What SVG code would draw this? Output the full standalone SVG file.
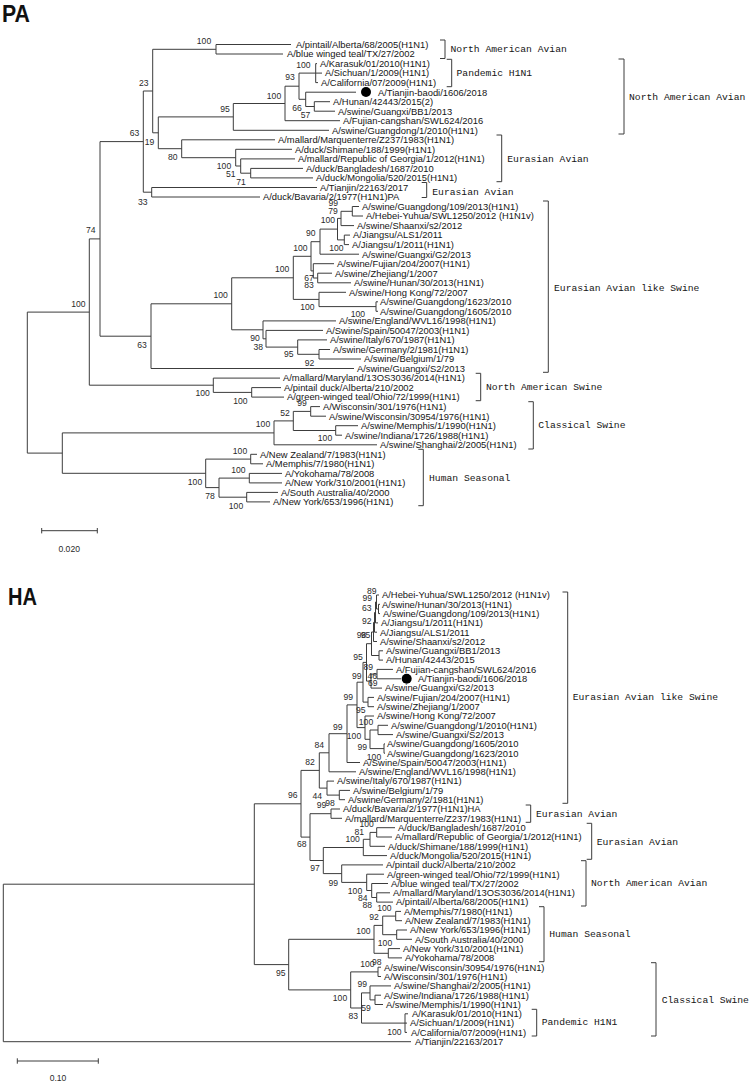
<svg xmlns="http://www.w3.org/2000/svg" width="750" height="1085" viewBox="0 0 750 1085">
<style>
.e{fill:none;stroke:#3c3c3c;stroke-width:1}
.k{fill:none;stroke:#3c3c3c;stroke-width:1}
.t{font-family:"Liberation Sans",Arial,sans-serif;font-size:9.4px;fill:#151515}
.b{font-family:"Liberation Sans",Arial,sans-serif;font-size:8.6px;fill:#2a2a2a;text-anchor:middle}
.c{font-family:"Liberation Mono","Courier New",monospace;font-size:9.7px;fill:#151515}
.h{font-family:"Liberation Sans",Arial,sans-serif;font-weight:bold;font-size:24px;fill:#111}
.d{fill:#000}
</style>
<rect width="750" height="1085" fill="#fff"/>
<text class="h" x="2" y="22" textLength="28" lengthAdjust="spacingAndGlyphs">PA</text>
<text class="h" x="8" y="605" textLength="29" lengthAdjust="spacingAndGlyphs">HA</text>

<g id="connectors">
<path class="e" d="M216 44.5V54M216 44.5H291M216 54H283"/>
<path class="e" d="M315.7 63.6V82.6M315.7 63.6H317M315.7 73.1H322M315.7 82.6H318"/>
<path class="e" d="M314.3 101.7V111.2M314.3 101.7H330M314.3 111.2H335"/>
<path class="e" d="M305.7 92.2V106.5M305.7 92.2H356M305.7 106.5H314.3"/>
<path class="e" d="M299 73.1V99.3M299 73.1H315.7M299 99.3H305.7"/>
<path class="e" d="M285 86.2V120.7M285 86.2H299M285 120.7H340"/>
<path class="e" d="M233.3 103.5V130.3M233.3 103.5H285M233.3 130.3H329"/>
<path class="e" d="M250.7 168.4V177.9M250.7 168.4H303M250.7 177.9H313"/>
<path class="e" d="M240.7 158.9V173.2M240.7 158.9H295M240.7 173.2H250.7"/>
<path class="e" d="M235.7 149.3V166M235.7 149.3H292M235.7 166H240.7"/>
<path class="e" d="M181.7 139.8V157.7M181.7 139.8H275M181.7 157.7H235.7"/>
<path class="e" d="M158.3 116.9V148.7M158.3 116.9H233.3M158.3 148.7H181.7"/>
<path class="e" d="M152.7 49.3V132.8M152.7 49.3H216M152.7 132.8H158.3"/>
<path class="e" d="M151.7 187.5V197M151.7 187.5H317M151.7 197H260"/>
<path class="e" d="M143.3 91V192.2M143.3 91H152.7M143.3 192.2H151.7"/>
<path class="e" d="M352.3 206.5V216M352.3 206.5H359M352.3 216H363"/>
<path class="e" d="M341 211.3V225.6M341 211.3H352.3M341 225.6H354"/>
<path class="e" d="M344.3 235.1V244.6M344.3 235.1H350M344.3 244.6H349"/>
<path class="e" d="M337.5 218.4V239.9M337.5 218.4H341M337.5 239.9H344.3"/>
<path class="e" d="M320 229.1V254.2M320 229.1H337.5M320 254.2H359"/>
<path class="e" d="M317.7 273.2V282.8M317.7 273.2H332M317.7 282.8H351"/>
<path class="e" d="M313.3 263.7V278M313.3 263.7H334M313.3 278H317.7"/>
<path class="e" d="M311 241.7V270.9M311 241.7H320M311 270.9H313.3"/>
<path class="e" d="M376 301.8V311.3M376 301.8H378M376 311.3H378"/>
<path class="e" d="M319 292.3V306.6M319 292.3H346M319 306.6H376"/>
<path class="e" d="M293.3 256.3V299.4M293.3 256.3H311M293.3 299.4H319"/>
<path class="e" d="M319 349.5V359M319 349.5H330M319 359H361"/>
<path class="e" d="M297.7 339.9V354.3M297.7 339.9H327M297.7 354.3H319"/>
<path class="e" d="M266 330.4V347.1M266 330.4H323M266 347.1H297.7"/>
<path class="e" d="M263 320.9V338.8M263 320.9H336M263 338.8H266"/>
<path class="e" d="M231.7 277.8V329.8M231.7 277.8H293.3M231.7 329.8H263"/>
<path class="e" d="M151 303.8V368.5M151 303.8H231.7M151 368.5H354"/>
<path class="e" d="M100 141.6V336.2M100 141.6H143.3M100 336.2H151"/>
<path class="e" d="M251.7 387.6V397.1M251.7 387.6H281M251.7 397.1H284"/>
<path class="e" d="M213.3 378.1V392.4M213.3 378.1H280M213.3 392.4H251.7"/>
<path class="e" d="M89.3 238.9V385.2M89.3 238.9H100M89.3 385.2H213.3"/>
<path class="e" d="M310.7 406.6V416.2M310.7 406.6H320M310.7 416.2H326"/>
<path class="e" d="M335.7 425.7V435.2M335.7 425.7H358M335.7 435.2H342"/>
<path class="e" d="M293.3 411.4V430.5M293.3 411.4H310.7M293.3 430.5H335.7"/>
<path class="e" d="M274 420.9V444.8M274 420.9H293.3M274 444.8H377"/>
<path class="e" d="M250.7 454.3V463.8M250.7 454.3H257M250.7 463.8H263"/>
<path class="e" d="M249.3 473.4V482.9M249.3 473.4H282M249.3 482.9H282"/>
<path class="e" d="M246.7 492.4V501.9M246.7 492.4H278M246.7 501.9H270"/>
<path class="e" d="M219 478.1V497.2M219 478.1H249.3M219 497.2H246.7"/>
<path class="e" d="M205.7 459.1V487.6M205.7 459.1H250.7M205.7 487.6H219"/>
<path class="e" d="M62.3 432.9V473.3M62.3 432.9H274M62.3 473.3H205.7"/>
<path class="e" d="M27.3 312.1V453.1M27.3 312.1H89.3M27.3 453.1H62.3"/>
<path class="e" d="M41.7 530.7H97.3M41.7 528V533.4M97.3 528V533.4"/>

<path class="e" d="M378.5 604.3V613.6M378.5 604.3H380M378.5 613.6H380"/>
<path class="e" d="M376.5 595V609M376.5 595H379M376.5 609H378.5"/>
<path class="e" d="M375.5 602V622.9M375.5 602H376.5M375.5 622.9H378"/>
<path class="e" d="M374.5 612.5V632.2M374.5 612.5H375.5M374.5 632.2H377"/>
<path class="e" d="M373.5 622.4V641.5M373.5 622.4H374.5M373.5 641.5H377"/>
<path class="e" d="M379 650.8V660.1M379 650.8H383M379 660.1H383"/>
<path class="e" d="M371.5 632V655.5M371.5 632H373.5M371.5 655.5H379"/>
<path class="e" d="M377 669.4V678.8M377 669.4H393M377 678.8H401"/>
<path class="e" d="M371 674.1V688.1M371 674.1H377M371 688.1H382"/>
<path class="e" d="M366.5 643.7V681.1M366.5 643.7H371.5M366.5 681.1H371"/>
<path class="e" d="M368 697.4V706.7M368 697.4H374M368 706.7H374"/>
<path class="e" d="M363 662.4V702.1M363 662.4H366.5M363 702.1H368"/>
<path class="e" d="M378 725.3V734.6M378 725.3H388M378 734.6H393"/>
<path class="e" d="M384 743.9V753.2M384 743.9H385M384 753.2H385"/>
<path class="e" d="M370 730V748.6M370 730H378M370 748.6H384"/>
<path class="e" d="M365 716V739.3M365 716H374M365 739.3H370"/>
<path class="e" d="M357 682.2V727.6M357 682.2H363M357 727.6H365"/>
<path class="e" d="M347 704.9V762.5M347 704.9H357M347 762.5H360"/>
<path class="e" d="M329 733.7V771.8M329 733.7H347M329 771.8H356"/>
<path class="e" d="M339.3 790.4V799.7M339.3 790.4H350M339.3 799.7H345"/>
<path class="e" d="M327 781.1V795.1M327 781.1H334M327 795.1H339.3"/>
<path class="e" d="M319.3 752.8V788.1M319.3 752.8H329M319.3 788.1H327"/>
<path class="e" d="M331 809V818.3M331 809H340M331 818.3H342"/>
<path class="e" d="M376.7 827.7V837M376.7 827.7H395M376.7 837H392"/>
<path class="e" d="M370 832.4V846.3M370 832.4H376.7M370 846.3H385"/>
<path class="e" d="M363.3 839.3V855.6M363.3 839.3H370M363.3 855.6H387"/>
<path class="e" d="M376.7 892.8V902.1M376.7 892.8H390M376.7 902.1H393"/>
<path class="e" d="M371.7 883.5V897.5M371.7 883.5H388M371.7 897.5H376.7"/>
<path class="e" d="M366.7 874.2V890.5M366.7 874.2H384M366.7 890.5H371.7"/>
<path class="e" d="M341.7 864.9V882.4M341.7 864.9H383M341.7 882.4H366.7"/>
<path class="e" d="M323.3 847.5V873.6M323.3 847.5H363.3M323.3 873.6H341.7"/>
<path class="e" d="M310 813.7V860.5M310 813.7H331M310 860.5H323.3"/>
<path class="e" d="M301 770.4V837.1M301 770.4H319.3M301 837.1H310"/>
<path class="e" d="M395.7 911.4V920.7M395.7 911.4H401M395.7 920.7H402"/>
<path class="e" d="M396.7 930V939.3M396.7 930H407M396.7 939.3H412"/>
<path class="e" d="M382.7 916.1V934.7M382.7 916.1H395.7M382.7 934.7H396.7"/>
<path class="e" d="M388.3 948.6V957.9M388.3 948.6H400M388.3 957.9H402"/>
<path class="e" d="M374 925.4V953.3M374 925.4H382.7M374 953.3H388.3"/>
<path class="e" d="M378 967.2V976.5M378 967.2H381M378 976.5H381"/>
<path class="e" d="M375 995.2V1004.5M375 995.2H381M375 1004.5H383"/>
<path class="e" d="M370 985.9V999.9M370 985.9H391M370 999.9H375"/>
<path class="e" d="M405 1013.8V1032.4M405 1013.8H408M405 1023.1H407M405 1032.4H407"/>
<path class="e" d="M361.5 992.9V1023.1M361.5 992.9H370M361.5 1023.1H405"/>
<path class="e" d="M350.7 971.9V1008M350.7 971.9H378M350.7 1008H361.5"/>
<path class="e" d="M288.7 939.3V989.9M288.7 939.3H374M288.7 989.9H350.7"/>
<path class="e" d="M254.3 803.8V964.6M254.3 803.8H301M254.3 964.6H288.7"/>
<path class="e" d="M3.3 884.2V1041.7M3.3 884.2H254.3M3.3 1041.7H411"/>
<path class="e" d="M17.3 1061H98.3M17.3 1058.3V1063.7M98.3 1058.3V1063.7"/>
</g>

<g id="pa-dot"><circle class="d" cx="366" cy="92" r="5"/></g>
<g id="ha-dot"><circle class="d" cx="406.7" cy="678.8" r="5"/></g>

<g id="pa-leaves">
<g id="pa-l0"><text class="t" x="296" y="47.8">A/pintail/Alberta/68/2005(H1N1)</text></g>
<g id="pa-l1"><text class="t" x="287" y="57.3">A/blue winged teal/TX/27/2002</text></g>
<g id="pa-l2"><text class="t" x="320" y="66.9">A/Karasuk/01/2010(H1N1)</text></g>
<g id="pa-l3"><text class="t" x="325" y="76.4">A/Sichuan/1/2009(H1N1)</text></g>
<g id="pa-l4"><text class="t" x="321" y="85.9">A/California/07/2009(H1N1)</text></g>
<g id="pa-l5"><text class="t" x="378" y="95.5">A/Tianjin-baodi/1606/2018</text></g>
<g id="pa-l6"><text class="t" x="333" y="105">A/Hunan/42443/2015(2)</text></g>
<g id="pa-l7"><text class="t" x="338" y="114.5">A/swine/Guangxi/BB1/2013</text></g>
<g id="pa-l8"><text class="t" x="343" y="124">A/Fujian-cangshan/SWL624/2016</text></g>
<g id="pa-l9"><text class="t" x="332" y="133.6">A/swine/Guangdong/1/2010(H1N1)</text></g>
<g id="pa-l10"><text class="t" x="278" y="143.1">A/mallard/Marquenterre/Z237/1983(H1N1)</text></g>
<g id="pa-l11"><text class="t" x="295" y="152.6">A/duck/Shimane/188/1999(H1N1)</text></g>
<g id="pa-l12"><text class="t" x="298" y="162.2">A/mallard/Republic of Georgia/1/2012(H1N1)</text></g>
<g id="pa-l13"><text class="t" x="306" y="171.7">A/duck/Bangladesh/1687/2010</text></g>
<g id="pa-l14"><text class="t" x="316" y="181.2">A/duck/Mongolia/520/2015(H1N1)</text></g>
<g id="pa-l15"><text class="t" x="320" y="190.8">A/Tianjin/22163/2017</text></g>
<g id="pa-l16"><text class="t" x="263" y="200.3">A/duck/Bavaria/2/1977(H1N1)PA</text></g>
<g id="pa-l17"><text class="t" x="362" y="209.8">A/swine/Guangdong/109/2013(H1N1)</text></g>
<g id="pa-l18"><text class="t" x="366" y="219.3">A/Hebei-Yuhua/SWL1250/2012 (H1N1v)</text></g>
<g id="pa-l19"><text class="t" x="357" y="228.9">A/swine/Shaanxi/s2/2012</text></g>
<g id="pa-l20"><text class="t" x="353" y="238.4">A/Jiangsu/ALS1/2011</text></g>
<g id="pa-l21"><text class="t" x="352" y="247.9">A/Jiangsu/1/2011(H1N1)</text></g>
<g id="pa-l22"><text class="t" x="362" y="257.5">A/swine/Guangxi/G2/2013</text></g>
<g id="pa-l23"><text class="t" x="337" y="267">A/swine/Fujian/204/2007(H1N1)</text></g>
<g id="pa-l24"><text class="t" x="335" y="276.5">A/swine/Zhejiang/1/2007</text></g>
<g id="pa-l25"><text class="t" x="354" y="286.1">A/swine/Hunan/30/2013(H1N1)</text></g>
<g id="pa-l26"><text class="t" x="349" y="295.6">A/swine/Hong Kong/72/2007</text></g>
<g id="pa-l27"><text class="t" x="380" y="305.1">A/swine/Guangdong/1623/2010</text></g>
<g id="pa-l28"><text class="t" x="380" y="314.6">A/swine/Guangdong/1605/2010</text></g>
<g id="pa-l29"><text class="t" x="339" y="324.2">A/swine/England/WVL16/1998(H1N1)</text></g>
<g id="pa-l30"><text class="t" x="326" y="333.7">A/Swine/Spain/50047/2003(H1N1)</text></g>
<g id="pa-l31"><text class="t" x="330" y="343.2">A/swine/Italy/670/1987(H1N1)</text></g>
<g id="pa-l32"><text class="t" x="333" y="352.8">A/swine/Germany/2/1981(H1N1)</text></g>
<g id="pa-l33"><text class="t" x="364" y="362.3">A/swine/Belgium/1/79</text></g>
<g id="pa-l34"><text class="t" x="357" y="371.8">A/swine/Guangxi/S2/2013</text></g>
<g id="pa-l35"><text class="t" x="283" y="381.4">A/mallard/Maryland/13OS3036/2014(H1N1)</text></g>
<g id="pa-l36"><text class="t" x="284" y="390.9">A/pintail duck/Alberta/210/2002</text></g>
<g id="pa-l37"><text class="t" x="287" y="400.4">A/green-winged teal/Ohio/72/1999(H1N1)</text></g>
<g id="pa-l38"><text class="t" x="323" y="409.9">A/Wisconsin/301/1976(H1N1)</text></g>
<g id="pa-l39"><text class="t" x="329" y="419.5">A/swine/Wisconsin/30954/1976(H1N1)</text></g>
<g id="pa-l40"><text class="t" x="361" y="429">A/swine/Memphis/1/1990(H1N1)</text></g>
<g id="pa-l41"><text class="t" x="345" y="438.5">A/swine/Indiana/1726/1988(H1N1)</text></g>
<g id="pa-l42"><text class="t" x="380" y="448.1">A/swine/Shanghai/2/2005(H1N1)</text></g>
<g id="pa-l43"><text class="t" x="260" y="457.6">A/New Zealand/7/1983(H1N1)</text></g>
<g id="pa-l44"><text class="t" x="266" y="467.1">A/Memphis/7/1980(H1N1)</text></g>
<g id="pa-l45"><text class="t" x="285" y="476.7">A/Yokohama/78/2008</text></g>
<g id="pa-l46"><text class="t" x="285" y="486.2">A/New York/310/2001(H1N1)</text></g>
<g id="pa-l47"><text class="t" x="281" y="495.7">A/South Australia/40/2000</text></g>
<g id="pa-l48"><text class="t" x="273" y="505.2">A/New York/653/1996(H1N1)</text></g>
</g>

<g id="pa-support">
<text class="b" x="204" y="44">100</text>
<text class="b" x="303.3" y="68">100</text>
<text class="b" x="290" y="80.4">93</text>
<text class="b" x="274" y="98.9">100</text>
<text class="b" x="225" y="111.9">95</text>
<text class="b" x="297" y="111.4">66</text>
<text class="b" x="305.5" y="118.4">57</text>
<text class="b" x="143.7" y="86.4">23</text>
<text class="b" x="134.5" y="136.4">63</text>
<text class="b" x="149.5" y="144.8">19</text>
<text class="b" x="172.8" y="160.4">80</text>
<text class="b" x="224" y="168.9">100</text>
<text class="b" x="230.8" y="177.3">51</text>
<text class="b" x="241" y="185.1">71</text>
<text class="b" x="142.8" y="204.8">33</text>
<text class="b" x="333.3" y="205.6">99</text>
<text class="b" x="333" y="213.6">79</text>
<text class="b" x="327.8" y="223.4">100</text>
<text class="b" x="310.8" y="235.9">90</text>
<text class="b" x="336.3" y="250.9">100</text>
<text class="b" x="300.3" y="250.6">100</text>
<text class="b" x="282.2" y="271.9">100</text>
<text class="b" x="309" y="280.9">67</text>
<text class="b" x="309" y="288.4">83</text>
<text class="b" x="220.7" y="298.1">100</text>
<text class="b" x="307.3" y="310.4">100</text>
<text class="b" x="357.8" y="316.8">100</text>
<text class="b" x="255" y="341.1">90</text>
<text class="b" x="258.3" y="350.1">38</text>
<text class="b" x="288.7" y="357.3">95</text>
<text class="b" x="309.5" y="365.8">92</text>
<text class="b" x="142" y="347.6">63</text>
<text class="b" x="90.8" y="233.1">74</text>
<text class="b" x="78.3" y="306.8">100</text>
<text class="b" x="202.7" y="395.6">100</text>
<text class="b" x="240.3" y="403.8">100</text>
<text class="b" x="302" y="406.1">99</text>
<text class="b" x="285" y="415.8">52</text>
<text class="b" x="263" y="427.1">100</text>
<text class="b" x="325" y="441.4">100</text>
<text class="b" x="240" y="453.8">100</text>
<text class="b" x="238.3" y="473.1">100</text>
<text class="b" x="195" y="484.8">100</text>
<text class="b" x="210" y="499.4">78</text>
<text class="b" x="236" y="508.6">100</text>
<text class="b" x="69.2" y="552.4">0.020</text>
</g>

<g id="pa-clades">
<g id="pa-c1"><path class="k" d="M440 40H445V58.5H440"/><text class="c" x="450.5" y="52">North American Avian</text></g>
<g id="pa-c2"><path class="k" d="M446.7 59.3H451.7V86.7H446.7"/><text class="c" x="456.5" y="76.3">Pandemic H1N1</text></g>
<g id="pa-c3"><path class="k" d="M618.5 59H624V134H618.5"/><text class="c" x="629" y="100.3">North American Avian</text></g>
<g id="pa-c4"><path class="k" d="M496.5 135H501.7V181.7H496.5"/><text class="c" x="507.3" y="162">Eurasian Avian</text></g>
<g id="pa-c5"><path class="k" d="M421.7 182.5H426.7V197.5H421.7"/><text class="c" x="432.3" y="195.3">Eurasian Avian</text></g>
<g id="pa-c6"><path class="k" d="M543 201H548.3V372.3H543"/><text class="c" x="554" y="290.7">Eurasian Avian like Swine</text></g>
<g id="pa-c7"><path class="k" d="M475.7 373.3H480.7V400.7H475.7"/><text class="c" x="486" y="389.7">North American Swine</text></g>
<g id="pa-c8"><path class="k" d="M528.3 401.7H533.3V449H528.3"/><text class="c" x="538.3" y="428">Classical Swine</text></g>
<g id="pa-c9"><path class="k" d="M418.3 449.3H423.3V505.7H418.3"/><text class="c" x="429" y="480.7">Human Seasonal</text></g>
</g>

<g id="ha-leaves">
<g id="ha-l0"><text class="t" x="382" y="598.3">A/Hebei-Yuhua/SWL1250/2012 (H1N1v)</text></g>
<g id="ha-l1"><text class="t" x="382" y="607.6">A/swine/Hunan/30/2013(H1N1)</text></g>
<g id="ha-l2"><text class="t" x="383" y="616.9">A/swine/Guangdong/109/2013(H1N1)</text></g>
<g id="ha-l3"><text class="t" x="381" y="626.2">A/Jiangsu/1/2011(H1N1)</text></g>
<g id="ha-l4"><text class="t" x="380" y="635.5">A/Jiangsu/ALS1/2011</text></g>
<g id="ha-l5"><text class="t" x="380" y="644.8">A/swine/Shaanxi/s2/2012</text></g>
<g id="ha-l6"><text class="t" x="386" y="654.1">A/swine/Guangxi/BB1/2013</text></g>
<g id="ha-l7"><text class="t" x="386" y="663.4">A/Hunan/42443/2015</text></g>
<g id="ha-l8"><text class="t" x="396" y="672.7">A/Fujian-cangshan/SWL624/2016</text></g>
<g id="ha-l9"><text class="t" x="418" y="682.1">A/Tianjin-baodi/1606/2018</text></g>
<g id="ha-l10"><text class="t" x="385" y="691.4">A/swine/Guangxi/G2/2013</text></g>
<g id="ha-l11"><text class="t" x="377" y="700.7">A/swine/Fujian/204/2007(H1N1)</text></g>
<g id="ha-l12"><text class="t" x="377" y="710">A/swine/Zhejiang/1/2007</text></g>
<g id="ha-l13"><text class="t" x="377" y="719.3">A/swine/Hong Kong/72/2007</text></g>
<g id="ha-l14"><text class="t" x="391" y="728.6">A/swine/Guangdong/1/2010(H1N1)</text></g>
<g id="ha-l15"><text class="t" x="396" y="737.9">A/swine/Guangxi/S2/2013</text></g>
<g id="ha-l16"><text class="t" x="387" y="747.2">A/swine/Guangdong/1605/2010</text></g>
<g id="ha-l17"><text class="t" x="387" y="756.5">A/swine/Guangdong/1623/2010</text></g>
<g id="ha-l18"><text class="t" x="363" y="765.8">A/Swine/Spain/50047/2003(H1N1)</text></g>
<g id="ha-l19"><text class="t" x="359" y="775.1">A/swine/England/WVL16/1998(H1N1)</text></g>
<g id="ha-l20"><text class="t" x="337" y="784.4">A/swine/Italy/670/1987(H1N1)</text></g>
<g id="ha-l21"><text class="t" x="353" y="793.7">A/swine/Belgium/1/79</text></g>
<g id="ha-l22"><text class="t" x="348" y="803">A/swine/Germany/2/1981(H1N1)</text></g>
<g id="ha-l23"><text class="t" x="343" y="812.3">A/duck/Bavaria/2/1977(H1N1)HA</text></g>
<g id="ha-l24"><text class="t" x="345" y="821.6">A/mallard/Marquenterre/Z237/1983(H1N1)</text></g>
<g id="ha-l25"><text class="t" x="398" y="831">A/duck/Bangladesh/1687/2010</text></g>
<g id="ha-l26"><text class="t" x="395" y="840.3">A/mallard/Republic of Georgia/1/2012(H1N1)</text></g>
<g id="ha-l27"><text class="t" x="388" y="849.6">A/duck/Shimane/188/1999(H1N1)</text></g>
<g id="ha-l28"><text class="t" x="390" y="858.9">A/duck/Mongolia/520/2015(H1N1)</text></g>
<g id="ha-l29"><text class="t" x="386" y="868.2">A/pintail duck/Alberta/210/2002</text></g>
<g id="ha-l30"><text class="t" x="387" y="877.5">A/green-winged teal/Ohio/72/1999(H1N1)</text></g>
<g id="ha-l31"><text class="t" x="391" y="886.8">A/blue winged teal/TX/27/2002</text></g>
<g id="ha-l32"><text class="t" x="393" y="896.1">A/mallard/Maryland/13OS3036/2014(H1N1)</text></g>
<g id="ha-l33"><text class="t" x="396" y="905.4">A/pintail/Alberta/68/2005(H1N1)</text></g>
<g id="ha-l34"><text class="t" x="404" y="914.7">A/Memphis/7/1980(H1N1)</text></g>
<g id="ha-l35"><text class="t" x="405" y="924">A/New Zealand/7/1983(H1N1)</text></g>
<g id="ha-l36"><text class="t" x="410" y="933.3">A/New York/653/1996(H1N1)</text></g>
<g id="ha-l37"><text class="t" x="415" y="942.6">A/South Australia/40/2000</text></g>
<g id="ha-l38"><text class="t" x="403" y="951.9">A/New York/310/2001(H1N1)</text></g>
<g id="ha-l39"><text class="t" x="405" y="961.2">A/Yokohama/78/2008</text></g>
<g id="ha-l40"><text class="t" x="384" y="970.5">A/swine/Wisconsin/30954/1976(H1N1)</text></g>
<g id="ha-l41"><text class="t" x="384" y="979.8">A/Wisconsin/301/1976(H1N1)</text></g>
<g id="ha-l42"><text class="t" x="394" y="989.2">A/swine/Shanghai/2/2005(H1N1)</text></g>
<g id="ha-l43"><text class="t" x="384" y="998.5">A/Swine/Indiana/1726/1988(H1N1)</text></g>
<g id="ha-l44"><text class="t" x="386" y="1007.8">A/swine/Memphis/1/1990(H1N1)</text></g>
<g id="ha-l45"><text class="t" x="412" y="1017.1">A/Karasuk/01/2010(H1N1)</text></g>
<g id="ha-l46"><text class="t" x="410" y="1026.4">A/Sichuan/1/2009(H1N1)</text></g>
<g id="ha-l47"><text class="t" x="411" y="1035.7">A/California/07/2009(H1N1)</text></g>
<g id="ha-l48"><text class="t" x="415" y="1045">A/Tianjin/22163/2017</text></g>
</g>

<g id="ha-support">
<text class="b" x="371.7" y="594.1">89</text>
<text class="b" x="367.3" y="601.4">99</text>
<text class="b" x="366.7" y="611.4">63</text>
<text class="b" x="366.7" y="624.1">92</text>
<text class="b" x="361.5" y="638.1">98</text>
<text class="b" x="365.5" y="638.1">95</text>
<text class="b" x="358" y="660.1">95</text>
<text class="b" x="368.3" y="669.8">89</text>
<text class="b" x="356.7" y="678.6">99</text>
<text class="b" x="372.3" y="678.6">46</text>
<text class="b" x="372.7" y="686.1">69</text>
<text class="b" x="348.3" y="700.4">99</text>
<text class="b" x="360.7" y="713.1">95</text>
<text class="b" x="366" y="724.8">100</text>
<text class="b" x="337.7" y="729.8">99</text>
<text class="b" x="354" y="739.1">100</text>
<text class="b" x="362.3" y="750.4">99</text>
<text class="b" x="374" y="760.4">100</text>
<text class="b" x="319.3" y="748.1">84</text>
<text class="b" x="310" y="764.8">82</text>
<text class="b" x="292.7" y="798.1">96</text>
<text class="b" x="317.3" y="799.1">44</text>
<text class="b" x="321.5" y="808.1">99</text>
<text class="b" x="330" y="805.8">98</text>
<text class="b" x="366.7" y="827.1">100</text>
<text class="b" x="359.3" y="834.8">81</text>
<text class="b" x="352.7" y="842.4">100</text>
<text class="b" x="301.7" y="847.1">68</text>
<text class="b" x="315" y="871.4">97</text>
<text class="b" x="333.3" y="885.8">99</text>
<text class="b" x="355" y="893.8">100</text>
<text class="b" x="362.7" y="900.8">84</text>
<text class="b" x="367.3" y="908.1">88</text>
<text class="b" x="384.3" y="910.8">100</text>
<text class="b" x="374" y="920.4">92</text>
<text class="b" x="363.3" y="933.8">100</text>
<text class="b" x="385" y="946.4">100</text>
<text class="b" x="367.3" y="967.1">100</text>
<text class="b" x="376.7" y="964.8">98</text>
<text class="b" x="280.7" y="975.8">95</text>
<text class="b" x="362.3" y="987.4">99</text>
<text class="b" x="340" y="1000.8">100</text>
<text class="b" x="366" y="1010.8">59</text>
<text class="b" x="353.3" y="1019.1">83</text>
<text class="b" x="394.3" y="1034.8">100</text>
<text class="b" x="58" y="1081.4">0.10</text>
</g>

<g id="ha-clades">
<g id="ha-c1"><path class="k" d="M562.5 592H567.7V803.3H562.5"/><text class="c" x="572.7" y="700.3">Eurasian Avian like Swine</text></g>
<g id="ha-c2"><path class="k" d="M525.7 805H530.7V822.3H525.7"/><text class="c" x="536" y="817">Eurasian Avian</text></g>
<g id="ha-c3"><path class="k" d="M586.7 823.3H591.7V859.3H586.7"/><text class="c" x="596.7" y="844.7">Eurasian Avian</text></g>
<g id="ha-c4"><path class="k" d="M581 860.7H586V906H581"/><text class="c" x="591" y="885.7">North American Avian</text></g>
<g id="ha-c5"><path class="k" d="M539 906.7H544V961.7H539"/><text class="c" x="549.3" y="937">Human Seasonal</text></g>
<g id="ha-c6"><path class="k" d="M651 962.7H656V1036H651"/><text class="c" x="661.7" y="1003">Classical Swine</text></g>
<g id="ha-c7"><path class="k" d="M531.7 1009.3H536.7V1036H531.7"/><text class="c" x="541.7" y="1024.7">Pandemic H1N1</text></g>
</g>
</svg>
